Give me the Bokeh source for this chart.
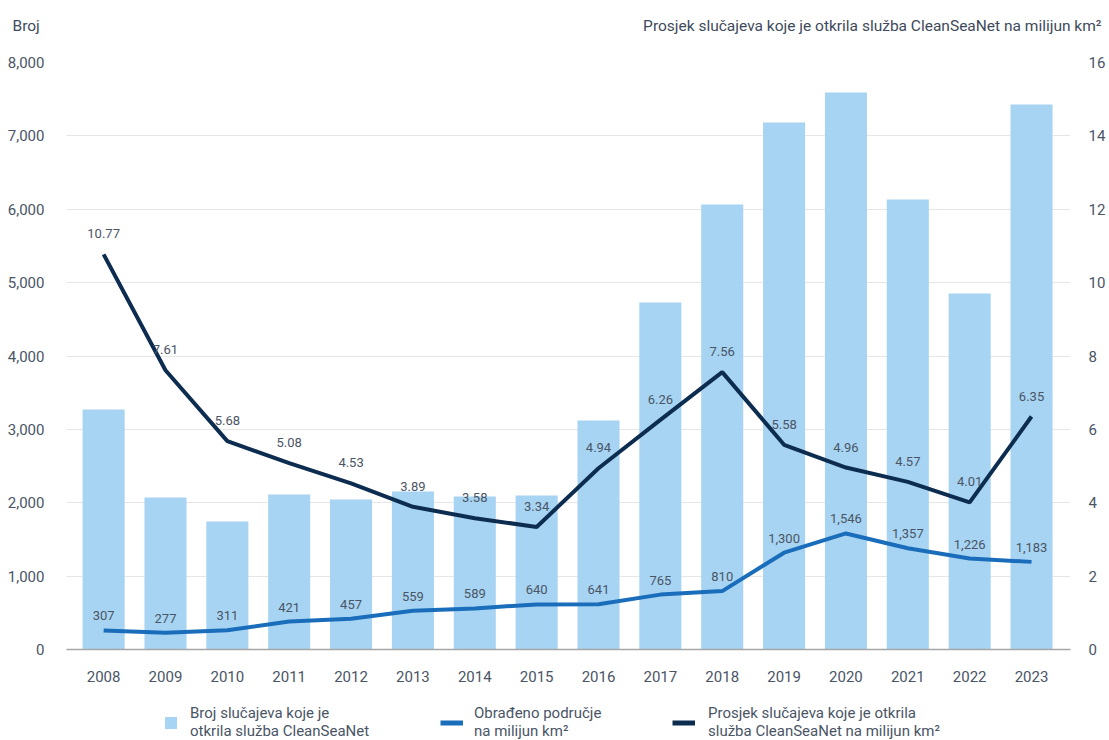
from bokeh.plotting import figure
from bokeh.layouts import column
from bokeh.models import (Range1d, LinearAxis, FixedTicker, NumeralTickFormatter,
                          Legend, LegendItem, ColumnDataSource)
from bokeh.core.properties import value
from bokeh.embed import file_html
from bokeh.resources import INLINE

years = [2008, 2009, 2010, 2011, 2012, 2013, 2014, 2015,
         2016, 2017, 2018, 2019, 2020, 2021, 2022, 2023]
cases = [3271, 2071, 1744, 2112, 2044, 2153, 2085, 2099,
         3121, 4730, 6064, 7182, 7591, 6132, 4851, 7427]
area = [307, 277, 311, 421, 457, 559, 589, 640,
        641, 765, 810, 1300, 1546, 1357, 1226, 1183]
density = [10.77, 7.61, 5.68, 5.08, 4.53, 3.89, 3.58, 3.34,
           4.94, 6.26, 7.56, 5.58, 4.96, 4.57, 4.01, 6.35]
left_ticks = [0, 1000, 2000, 3000, 4000, 5000, 6000, 7000, 8000]
right_ticks = [0, 2, 4, 6, 8, 10, 12, 14, 16]

label_bar = "Broj slučajeva koje je\notkrila služba CleanSeaNet"
label_area = "Obrađeno područje\nna milijun km²"
label_density = "Prosjek slučajeva koje je otkrila\nslužba CleanSeaNet na milijun km²"
title_left = "Broj"
title_right = "Prosjek slučajeva koje je otkrila služba CleanSeaNet na milijun km²"

BAR = "#a7d4f2"
MID = "#1a6dbb"
DARK = "#0d2d50"
TXT = "#4a5566"
TITLE_TXT = "#3e4a5b"
FONT = "Roboto"
W = 1109


def bare(fig):
    fig.outline_line_color = None
    fig.background_fill_color = "white"
    fig.border_fill_color = "white"
    fig.xaxis.visible = False
    fig.yaxis.visible = False
    fig.xgrid.visible = False
    fig.ygrid.visible = False


# ---------- top strip: axis titles ----------
top = figure(width=W, height=44, output_backend="svg", toolbar_location=None,
             x_range=Range1d(0, W), y_range=Range1d(0, 44), frame_align=False,
             min_border=0, min_border_left=0, min_border_right=0,
             min_border_top=0, min_border_bottom=0)
bare(top)
top.text(x=[12], y=[19], text=[title_left], text_align="left", text_baseline="middle",
         text_font=value(FONT), text_font_size="15.5px", text_color=TITLE_TXT)
top.text(x=[1101], y=[19], text=[title_right], text_align="right", text_baseline="middle",
         text_font=value(FONT), text_font_size="15.5px", text_color=TITLE_TXT)

# ---------- main chart ----------
p = figure(width=W, height=641, output_backend="svg", toolbar_location=None,
           x_range=Range1d(2007.4, 2023.63), y_range=Range1d(0, 8000),
           min_border_left=66, min_border_right=39, min_border_top=18,
           min_border_bottom=36)
p.outline_line_color = None
p.background_fill_color = "white"
p.border_fill_color = "white"

p.extra_y_ranges = {"right": Range1d(0, 16), "area": Range1d(64, 7560)}

p.xaxis.ticker = FixedTicker(ticks=years)
p.yaxis.ticker = FixedTicker(ticks=left_ticks)
p.yaxis.formatter = NumeralTickFormatter(format="0,0")
for ax in [p.xaxis[0], p.yaxis[0]]:
    ax.major_tick_line_color = None
    ax.minor_tick_line_color = None
    ax.major_label_text_font = FONT
    ax.major_label_text_font_size = "15px"
    ax.major_label_text_color = TXT
p.yaxis.axis_line_color = None
p.yaxis.major_label_standoff = 16
p.xaxis.axis_line_color = "#a6a6a6"
p.xaxis.axis_line_width = 1.5
p.xaxis.major_label_standoff = 15

raxis = LinearAxis(y_range_name="right", ticker=FixedTicker(ticks=right_ticks))
raxis.axis_line_color = None
raxis.major_tick_line_color = None
raxis.minor_tick_line_color = None
raxis.major_label_text_font = FONT
raxis.major_label_text_font_size = "15px"
raxis.major_label_text_color = TXT
raxis.major_label_standoff = 12
p.add_layout(raxis, "right")

p.xgrid.visible = False
p.ygrid.ticker = FixedTicker(ticks=left_ticks)
p.ygrid.grid_line_color = "#e6e6e6"
p.ygrid.grid_line_width = 1

p.vbar(x=years, top=cases, width=0.68, fill_color=BAR, line_color=None)
p.line(years, area, y_range_name="area", line_color=MID, line_width=4)
p.line(years, density, y_range_name="right", line_color=DARK, line_width=4)

src_a = ColumnDataSource(dict(x=years, y=area, t=[f"{v:,}" for v in area]))
src_d = ColumnDataSource(dict(x=years, y=density, t=[f"{v:.2f}" for v in density]))
p.text(x="x", y="y", text="t", source=src_a, y_range_name="area",
       text_align="center", text_baseline="bottom", y_offset=-10,
       text_font=value(FONT), text_font_size="13px", text_color=TXT)
p.text(x="x", y="y", text="t", source=src_d, y_range_name="right",
       text_align="center", text_baseline="bottom", y_offset=-16,
       text_font=value(FONT), text_font_size="13px", text_color=TXT)

# ---------- bottom strip: legend ----------
bot = figure(width=W, height=55, output_backend="svg", toolbar_location=None,
             x_range=Range1d(0, 1), y_range=Range1d(0, 1), frame_align=False,
             min_border=0, min_border_left=0, min_border_right=0,
             min_border_top=0, min_border_bottom=0)
bare(bot)
# legend-only renderers, kept outside the visible range
r_bar = bot.vbar(x=[-5], top=[-5], bottom=[-6], width=0.5, fill_color=BAR, line_color=None)
r_mid = bot.line(x=[-5, -4], y=[-5, -5], line_color=MID, line_width=5)
r_dark = bot.line(x=[-5, -4], y=[-5, -5], line_color=DARK, line_width=5)


def make_legend(label, renderer, loc, gw, standoff):
    return Legend(items=[LegendItem(label=label, renderers=[renderer])],
                  location=loc, orientation="horizontal",
                  border_line_color=None, background_fill_alpha=0,
                  label_standoff=standoff, glyph_width=gw, glyph_height=15,
                  padding=0, margin=0,
                  label_text_font=FONT, label_text_font_size="15px",
                  label_text_line_height=1.3,
                  label_text_color=TXT)


bot.add_layout(make_legend(label_bar, r_bar, (163, 0), 15, 12), "center")
bot.add_layout(make_legend(label_area, r_mid, (440, 0), 23, 11), "center")
bot.add_layout(make_legend(label_density, r_dark, (672, 0), 23, 13), "center")

layout = column(top, p, bot, spacing=0)
open("out.html", "w").write(file_html(layout, INLINE))
